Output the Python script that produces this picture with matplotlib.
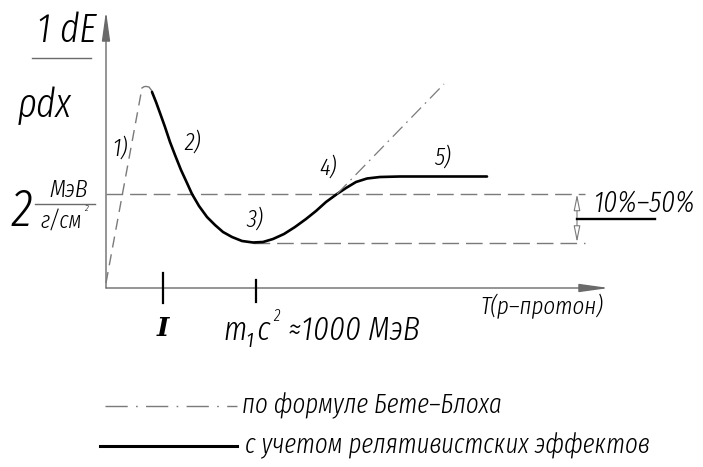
import matplotlib
matplotlib.use("Agg")
import numpy as np
import matplotlib.pyplot as plt
from matplotlib.patches import FancyArrowPatch

plt.rcParams['lines.scale_dashes'] = False
FONT = ['Fira Sans Extra Condensed', 'DejaVu Sans']
TXT = dict(family=FONT, style='italic', weight=300)

# energy-loss curve with relativistic effects (sketch units, origin at axes corner)
curve_T = [46, 50, 54, 59, 64, 69, 75, 81, 86, 93, 101, 109, 117, 126, 136, 147,
           157, 167, 178, 189, 200, 210, 220, 231, 240, 250, 261, 274, 294, 334, 381]
curve_E = [196, 186, 175, 161, 146, 133, 118, 105, 94, 82, 71, 63, 56, 51, 47, 45.5,
           46, 49, 54, 61, 69, 77, 86, 94, 100, 106, 109.5, 111, 111.5, 111.5, 111.5]

# low-energy branch (1) and rounded cap of the maximum
low_T = [0, 36]
low_E = [5, 200]
cap_T = [36, 38, 40, 43, 46]
cap_E = [200, 201.3, 201.6, 201, 197]

# Bethe-Bloch continuation (dash-dot)
bb_T = [231, 338]
bb_E = [94, 204]

level_high = 94      # 2 MeV/(g/cm^2)
level_min = 45.5
ref_end = 479
dim_x = 471

tick_T = [57, 150]
tick_lo = [-15, -14]
tick_hi = [15, 8]

region_labels = ['1)', '2)', '3)', '4)', '5)']
region_T = [14, 87, 149, 222, 336]
region_E = [139, 145, 68, 120, 130]

fig = plt.figure(figsize=(7.03, 4.67), dpi=100)
ax = fig.add_axes([0, 0, 1, 1])
ax.set_xlim(-106, 597)
ax.set_ylim(-179, 288)
ax.axis('off')

axis_col = '#6a6a6a'
dash_col = '#7a7a7a'

# axes with narrow arrowheads
for start, end in [((0, 0), (0, 277)), ((0, 0), (503, 0))]:
    ax.add_patch(FancyArrowPatch(start, end, arrowstyle='-|>,head_length=1.8,head_width=0.25',
                                 mutation_scale=10, color=axis_col, lw=1.0,
                                 shrinkA=0, shrinkB=0))

# reference levels
ax.plot([0, ref_end], [level_high, level_high], color=dash_col, lw=1.0, dashes=(12, 5))
ax.plot([curve_T[15], ref_end], [level_min, level_min], color=dash_col, lw=1.0, dashes=(12, 5))

# curves
ax.plot(low_T, low_E, color=dash_col, lw=1.0, dashes=(8, 5))
ax.plot(cap_T, cap_E, color=dash_col, lw=1.0)
ax.plot(curve_T, curve_E, color='black', lw=1.9, solid_capstyle='round')
ax.plot(bb_T, bb_E, color=dash_col, lw=0.9, dashes=(10, 4, 1.2, 4))

# ticks on the T axis
for t, lo, hi in zip(tick_T, tick_lo, tick_hi):
    ax.plot([t, t], [lo, hi], color='black', lw=1.6)

# 10%-50% dimension
ax.add_patch(FancyArrowPatch((dim_x, level_high), (dim_x, level_min),
                             arrowstyle='<|-|>,head_length=1.0,head_width=0.2',
                             mutation_scale=10, color=dash_col, lw=0.8, fc='white',
                             shrinkA=0, shrinkB=0))
ax.plot([dim_x, 549], [69, 69], color='black', lw=1.7)
ax.text(487, 85, '10%–50%', fontsize=21, ha='left', va='center', **TXT)

# region labels
for lab, t, e in zip(region_labels, region_T, region_E):
    ax.text(t, e, lab, fontsize=18, ha='center', va='center', **TXT)

# vertical axis label: (1/rho) dE/dx
ax.text(-39, 257, '1 dE', fontsize=29, ha='center', va='center', **TXT)
ax.plot([-74, -15], [230, 230], color=axis_col, lw=1.0)
ax.text(-61, 183, 'ρdx', fontsize=29, ha='center', va='center', **TXT)

# 2 MeV/(g/cm^2)
ax.text(-84, 76, '2', fontsize=38, ha='center', va='center', **TXT)
ax.text(-37, 98, 'МэВ', fontsize=18, ha='center', va='center', **TXT)
ax.plot([-71, -11], [84, 84], color=axis_col, lw=1.0)
ax.text(-45, 67, 'г/см', fontsize=17, ha='center', va='center', **TXT)
ax.text(-20, 80, '2', fontsize=7, ha='center', va='center', **TXT)

# tick labels and axis title
ax.text(57, -40, 'I', family='DejaVu Serif', weight='bold', style='italic', fontsize=19,
        ha='center', va='center')
ax.text(117, -43, 'm₁c', fontsize=24, ha='left', va='center', **TXT)
ax.text(170, -28, '2', fontsize=12, ha='center', va='center', **TXT)
ax.text(182, -43, '≈1000 МэВ', fontsize=24, ha='left', va='center', **TXT)
ax.text(436, -18, 'T(p–протон)', fontsize=18, ha='center', va='center', **TXT)

# legend
ax.plot([-1, 131], [-118, -118], color=dash_col, lw=1.0, dashes=(16, 6, 1.2, 6))
ax.text(136, -118, 'по формуле Бете–Блоха', fontsize=19.5, ha='left', va='center', **TXT)
ax.plot([-6, 131], [-158, -158], color='black', lw=2.2)
ax.text(139, -158, 'с учетом релятивистских эффектов', fontsize=19.5, ha='left', va='center',
        **TXT)

fig.savefig('out.png', dpi=100)
